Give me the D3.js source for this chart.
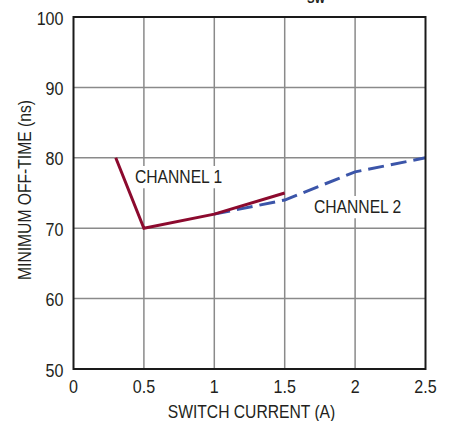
<!DOCTYPE html>
<html><head><meta charset="utf-8">
<script src="https://cdn.jsdelivr.net/npm/d3@7"></script>
<style>
html,body{margin:0;padding:0;background:#fff;}
svg{display:block;}
text{font-family:"Liberation Sans Narrow","Arial Narrow","Liberation Sans",Arial,sans-serif;fill:#231f20;}
</style></head>
<body>
<svg id="chart" width="451" height="421"></svg>
<script>
const xTicks = [0, 0.5, 1, 1.5, 2, 2.5];
const xTickLabels = ["0", "0.5", "1", "1.5", "2", "2.5"];
const yTicks = [50, 60, 70, 80, 90, 100];
const ch1Current = [0.3, 0.5, 1.0, 1.5];
const ch1OffTime = [80, 70, 72, 75];
const ch2Current = [1.0, 1.5, 2.0, 2.5];
const ch2OffTime = [72, 74, 78, 80];
const xTitle = "SWITCH CURRENT (A)";
const yTitle = "MINIMUM OFF-TIME (ns)";

const SX = 0.87;
const svg = d3.select("#chart");
const L = 73.5, R = 425.5, T = 17, B = 369;
const x = d3.scaleLinear().domain([0, 2.5]).range([L, R]);
const y = d3.scaleLinear().domain([50, 100]).range([B, T]);

function txt(parent, tx, ty, s, size, anchor, rot) {
  return parent.append("text")
    .attr("transform", `translate(${tx},${ty})` + (rot ? ` rotate(${rot})` : "") + ` scale(${SX},1)`)
    .attr("text-anchor", anchor).attr("font-size", size).text(s);
}

// partially cropped title fragment at top
txt(svg, 316, 2.5, "SW", 13, "middle").attr("font-weight", "bold");

// grid
svg.append("g").selectAll("line").data(xTicks.slice(1, -1)).join("line")
  .attr("x1", d => x(d)).attr("x2", d => x(d)).attr("y1", T).attr("y2", B)
  .attr("stroke", "#8a8a8a").attr("stroke-width", 1.5);
svg.append("g").selectAll("line").data(yTicks.slice(1, -1)).join("line")
  .attr("y1", d => y(d)).attr("y2", d => y(d)).attr("x1", L).attr("x2", R)
  .attr("stroke", "#8a8a8a").attr("stroke-width", 1.5);

// lines
const line = d3.line().x(d => x(d[0])).y(d => y(d[1]));
const ch2 = ch2Current.map((c, i) => [c, ch2OffTime[i]]);
const ch1 = ch1Current.map((c, i) => [c, ch1OffTime[i]]);
svg.append("path").datum(ch2).attr("d", line).attr("fill", "none")
  .attr("stroke", "#3b55a9").attr("stroke-width", 3).attr("stroke-dasharray", "16,7");
svg.append("path").datum(ch1).attr("d", line).attr("fill", "none")
  .attr("stroke", "#8c0a2e").attr("stroke-width", 3).attr("stroke-linejoin", "miter");

// labels with white backgrounds hiding grid
function label(s, cx, cy) {
  const g = svg.append("g");
  const t = txt(g, cx, cy, s, 18, "start");
  const bb = t.node().getBBox();
  g.insert("rect", "text").attr("x", cx - 3).attr("y", cy + bb.y - 1)
    .attr("width", bb.width * SX + 6).attr("height", bb.height + 2).attr("fill", "#fff");
}
label("CHANNEL 1", 135, 183);
label("CHANNEL 2", 314, 213);

// frame
svg.append("rect").attr("x", L).attr("y", T).attr("width", R - L).attr("height", B - T)
  .attr("fill", "none").attr("stroke", "#1a1a1a").attr("stroke-width", 2);

// tick labels
const gx = svg.append("g");
xTicks.forEach((d, i) => txt(gx, x(d), B + 24, xTickLabels[i], 18.5, "middle"));
const gy = svg.append("g");
yTicks.forEach(d => txt(gy, L - 10, y(d) + 7.5, String(d), 18.5, "end"));

txt(svg, (L + R) / 2 + 2, 418, xTitle, 18, "middle");
txt(svg, 31, (T + B) / 2 - 3, yTitle, 18, "middle", -90);
</script>
</body></html>
